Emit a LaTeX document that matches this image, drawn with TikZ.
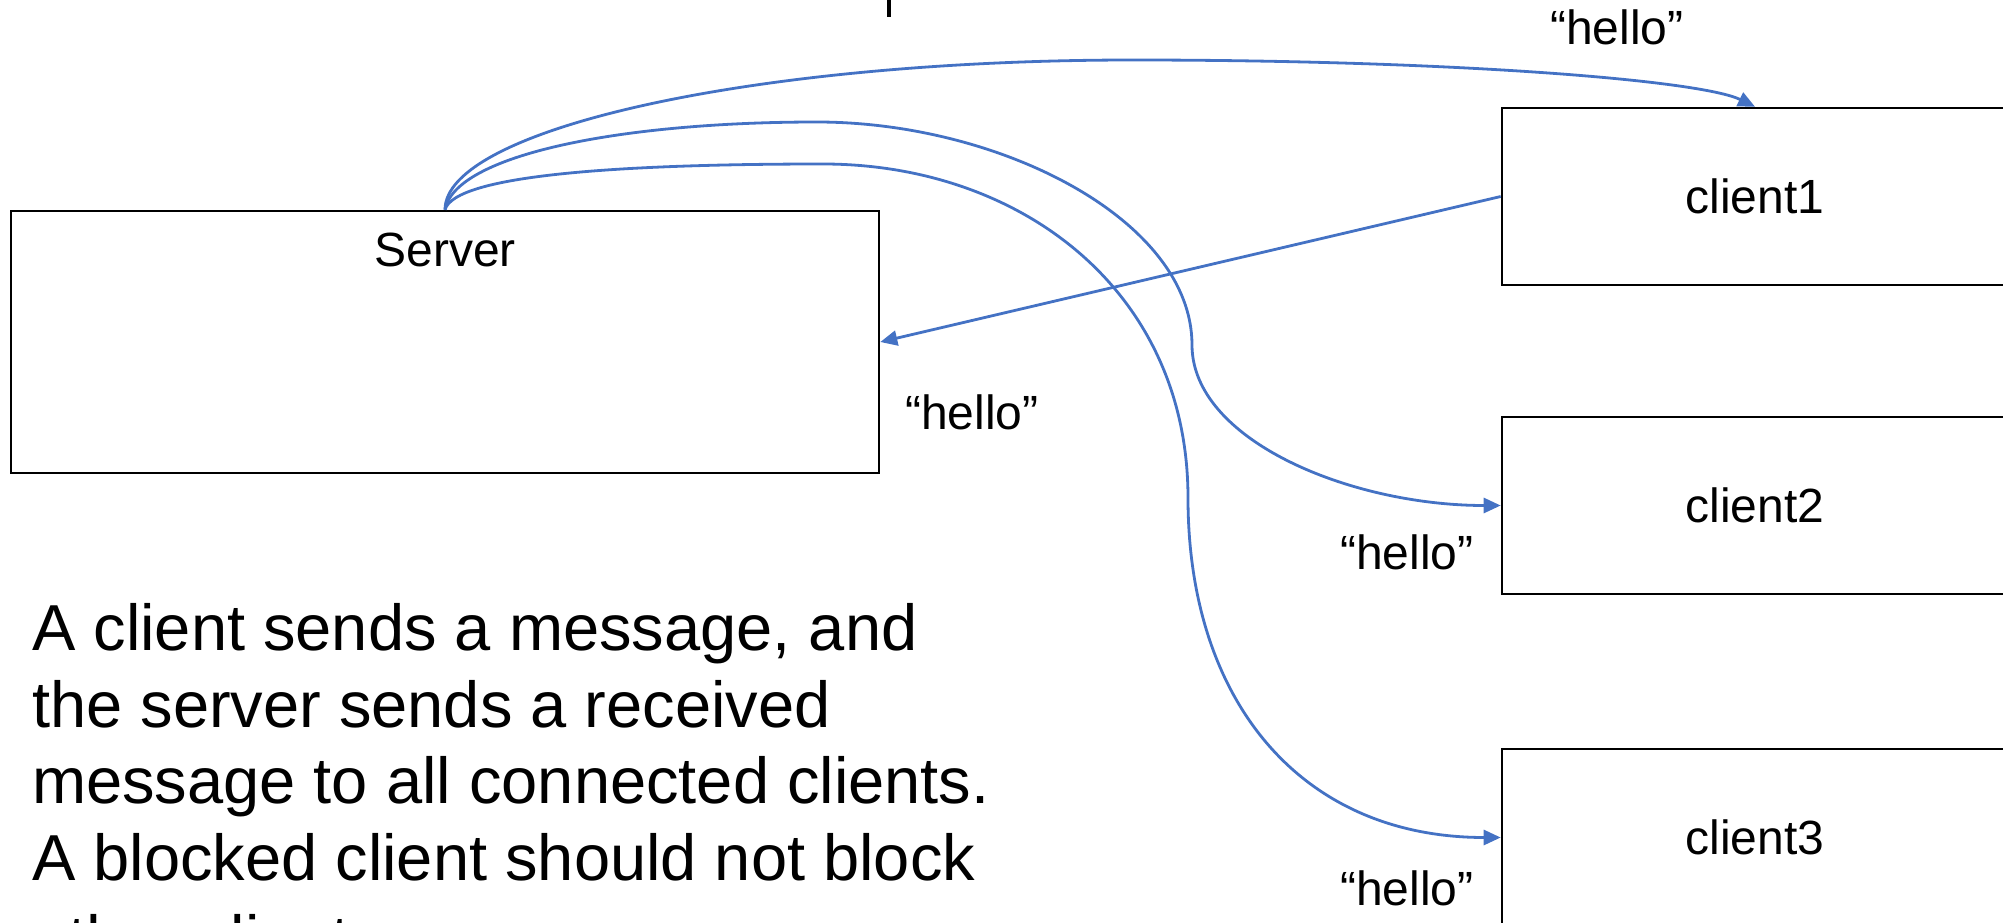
\documentclass[tikz,border=0pt]{standalone}
\usepackage{fontspec}
\setmainfont{Liberation Sans}
\usetikzlibrary{arrows.meta}
\definecolor{linkblue}{HTML}{4472C4}
\newcommand{\lblfont}{\fontsize{48}{58}\selectfont}
\newcommand{\notefont}{\fontsize{65}{77}\selectfont}

\begin{document}
\begin{tikzpicture}[x=1pt,y=-1pt,
  box/.style={draw=black,line width=2.6pt,inner sep=0pt,font=\lblfont},
  clientbox/.style={box,minimum width=506pt,minimum height=177pt},
  lbl/.style={inner sep=0pt,font=\lblfont},
  note/.style={inner sep=0pt,font=\notefont,anchor=base west},
  msg/.style={draw=linkblue,line width=2.8pt,-{Triangle[length=17pt,width=15pt]}}]
  \useasboundingbox (0,0) rectangle (2003,923);

  % remnant stroke of a heading above the frame
  \draw[line width=4pt] (889,-2) -- (889,17);

  % server and clients
  \node[box,minimum width=868pt,minimum height=262pt] (server) at (445,342) {};
  \node[lbl,anchor=base] (servertxt) at (445,266) {Server};
  \node[clientbox] (client1) at (1755,196.5) {client1};
  \node[clientbox] (client2) at (1755,505.5) {client2};
  \node[clientbox] (client3) at (1755,837.5) {client3};

  % message labels
  \node[lbl,anchor=base] (hello1) at (1617,45) {“hello”};
  \node[lbl,anchor=base] (hello0) at (972,429) {“hello”};
  \node[lbl,anchor=base] (hello2) at (1407,569) {“hello”};
  \node[lbl,anchor=base] (hello3) at (1407,905) {“hello”};

  % waypoints of the broadcast curves
  \coordinate (peakA) at (1133,60);
  \coordinate (peakB) at (817,122);
  \coordinate (bendB) at (1192,345);
  \coordinate (peakC) at (823,164);
  \coordinate (bendC) at (1188,498);

  % client1 sends to the server
  \draw[msg] (client1.west) -- (server.east);

  % server broadcasts to every client
  \draw[msg] (server.north) .. controls (445,130) and (750,60) .. (peakA)
    .. controls (1450,60) and (1700,80) .. (client1.north);
  \draw[msg] (server.north) .. controls (455,155) and (620,122) .. (peakB)
    .. controls (1000,122) and (1192,220) .. (bendB)
    .. controls (1192,440) and (1350,505.5) .. (client2.west);
  \draw[msg] (server.north) .. controls (455,175) and (620,164) .. (peakC)
    .. controls (1020,164) and (1188,290) .. (bendC)
    .. controls (1188,700) and (1300,837.5) .. (client3.west);

  % explanatory note
  \node[note] (note1) at (32,650) {A client sends a message, and};
  \node[note] (note2) at (32,727) {the server sends a received};
  \node[note] (note3) at (32,803) {message to all connected clients.};
  \node[note] (note4) at (32,880) {A blocked client should not block};
  \node[note] (note5) at (32,961) {other clients.};
\end{tikzpicture}
\end{document}
